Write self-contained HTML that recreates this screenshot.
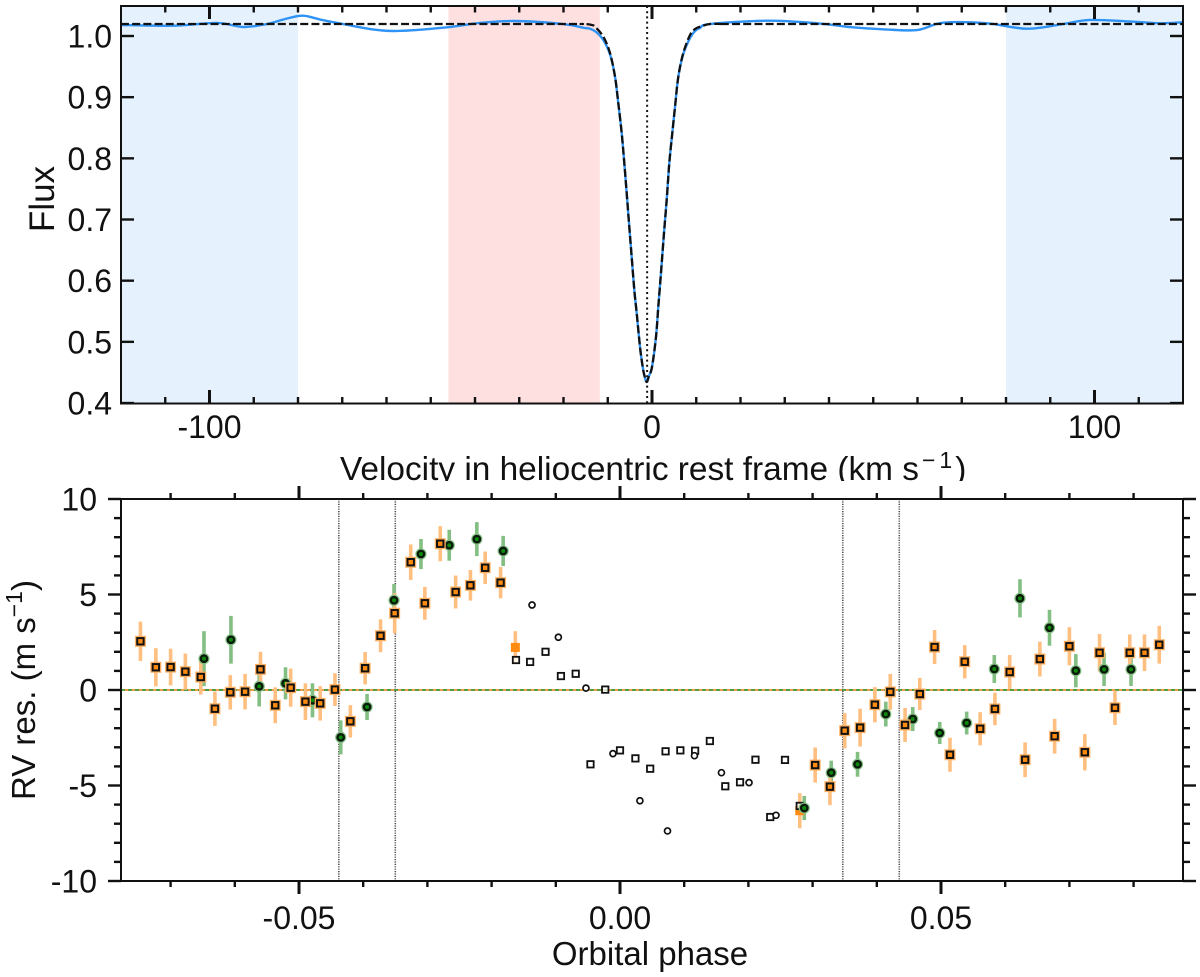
<!DOCTYPE html>
<html lang="en">
<head>
<meta charset="utf-8">
<title>Flux profile and RV residuals</title>
<style>
html,body{margin:0;padding:0;background:#fff;width:1200px;height:977px;overflow:hidden}
svg{display:block;font-family:"Liberation Sans",Arial,sans-serif;fill:#111}
text{font-size:32px}
</style>
</head>
<body>
<svg id="chart" xmlns="http://www.w3.org/2000/svg" width="1200" height="977" viewBox="0 0 1200 977">
  <defs>
    <clipPath id="clip-top"><rect x="121" y="6" width="1062" height="398"/></clipPath>
    <clipPath id="clip-bot"><rect x="121" y="499" width="1062" height="382"/></clipPath>
  </defs>
  <g id="top-panel"></g>
  <text id="vel-label" x="340" y="480" style="font-size:33.4px">Velocity in heliocentric rest frame (km s<tspan dx="3" dy="-12" style="font-size:23px;letter-spacing:4px">−1</tspan><tspan dy="12" dx="-1">)</tspan></text>
  <rect x="0" y="481" width="1200" height="496" fill="#fff"/>
  <g id="bot-panel"></g>
  <text transform="translate(54,199) rotate(-90)" text-anchor="middle" style="font-size:35px">Flux</text>
  <text transform="translate(35,690) rotate(-90)" text-anchor="middle" style="font-size:33px">RV res. (m s<tspan dy="-13" style="font-size:23px">−1</tspan><tspan dy="13">)</tspan></text>
  <text x="650" y="965" text-anchor="middle" style="font-size:33px">Orbital phase</text>
</svg>
<script>
// ---- Upper panel data ----
const modelVelocity = [-120,-60,-20,-16,-14.7,-13.6,-12.88,-11.0,-9.49,-8.36,-7.62,-6.85,-6.26,-5.72,-5.13,-4.59,-4.0,-3.46,-2.71,-2.1,-1.69,-1.2,-0.68,0,0.9,1.42,2.03,2.71,3.32,3.91,4.59,5.2,5.94,7.07,8.59,9.72,10.85,13.1,16,20,60,120];
const modelFlux = [1.0196,1.0196,1.0196,1.0196,1.0194,1.018,1.0152,0.9989,0.9722,0.9335,0.8905,0.8414,0.7924,0.7433,0.6878,0.6387,0.5848,0.5472,0.4916,0.4589,0.4442,0.4344,0.4442,0.4589,0.5079,0.557,0.6126,0.6779,0.7319,0.7924,0.8414,0.8839,0.933,0.9722,1.0016,1.0114,1.0152,1.0196,1.0196,1.0196,1.0196,1.0196];
const observedVelocity = [-119.8,-108.2,-98.3,-92.4,-87,-82.9,-78.9,-74.6,-69.8,-63.7,-57.6,-46.3,-38.9,-31,-20.1,-15.6,-14,-12.6,-11.0,-9.49,-8.36,-7.62,-6.85,-6.26,-5.72,-5.13,-4.59,-4.0,-3.46,-2.71,-2.1,-1.69,-1.2,-0.68,0,0.9,1.42,2.03,2.71,3.32,3.91,4.59,5.2,5.94,7.07,8.59,9.72,10.85,13.1,26,37.3,44.7,52.2,59.9,65.8,75.7,84.7,92.9,99,108.7,114.8,119.8];
const observedFlux = [1.018,1.0168,1.0213,1.0147,1.0196,1.0278,1.0332,1.0262,1.0196,1.0114,1.0082,1.0142,1.0213,1.0245,1.0196,1.0136,1.0119,1.0065,0.9935,0.97,0.9335,0.8905,0.8414,0.7924,0.7433,0.6878,0.6387,0.5848,0.5472,0.4916,0.4589,0.4442,0.4344,0.4442,0.4589,0.5079,0.557,0.6126,0.6779,0.7319,0.7924,0.8414,0.8839,0.933,0.9706,0.9967,1.0082,1.0131,1.0196,1.025,1.0208,1.0147,1.011,1.0098,1.0217,1.0208,1.0119,1.0196,1.0262,1.0234,1.0208,1.0224];
const blueBands = [[-120,-80],[80,120]];
const redBands = [[-46,-11.8]];
const restVelocity = -1.1;
const fluxTicks = [1.0,0.9,0.8,0.7,0.6,0.5,0.4];
const fluxTickLabels = ["1.0","0.9","0.8","0.7","0.6","0.5","0.4"];
const velocityMajor = [-100,0,100];
const velocityLabels = ["-100","0","100"];
const velocityMinor = [-110,-90,-80,-70,-60,-50,-40,-30,-20,-10,10,20,30,40,50,60,70,80,90,110];

// ---- Lower panel data ----
const orangePhase = [-0.0747,-0.0723,-0.0700,-0.0677,-0.0653,-0.0631,-0.0607,-0.0584,-0.0560,-0.0537,-0.0513,-0.0490,-0.0467,-0.0444,-0.0420,-0.0397,-0.0373,-0.0351,-0.0326,-0.0304,-0.0280,-0.0256,-0.0233,-0.0210,-0.0186,0.0304,0.0327,0.0350,0.0374,0.0397,0.0421,0.0444,0.0467,0.0490,0.0514,0.0537,0.0561,0.0584,0.0607,0.0631,0.0654,0.0677,0.0700,0.0724,0.0747,0.0771,0.0794,0.0817,0.0840];
const orangeRV = [2.55,1.19,1.2,0.96,0.68,-0.98,-0.12,-0.09,1.08,-0.8,0.12,-0.61,-0.7,0.02,-1.64,1.14,2.84,4.02,6.69,4.54,7.66,5.13,5.48,6.4,5.62,-3.93,-5.06,-2.13,-1.97,-0.77,-0.1,-1.83,-0.21,2.25,-3.39,1.48,-2.03,-0.99,0.94,-3.65,1.62,-2.42,2.29,-3.26,1.95,-0.93,1.95,1.95,2.37];
const orangeErr = [1.03,1,0.96,0.95,0.92,0.9,0.9,0.93,0.92,0.94,1,0.96,0.9,0.86,0.85,0.85,0.86,1.05,0.93,0.86,0.92,0.86,0.8,0.85,0.82,0.92,0.97,0.92,0.99,0.92,0.94,0.89,0.84,0.89,0.89,0.87,0.87,0.85,0.89,0.91,0.91,0.91,1,0.95,0.98,0.9,0.96,0.96,0.99];
const greenPhase = [-0.0648,-0.0606,-0.0562,-0.0521,-0.0479,-0.0435,-0.0394,-0.0352,-0.0310,-0.0266,-0.0223,-0.0182,0.0287,0.0329,0.0370,0.0414,0.0456,0.0498,0.0540,0.0583,0.0623,0.0669,0.0710,0.0754,0.0796];
const greenRV = [1.64,2.63,0.19,0.35,-0.54,-2.48,-0.89,4.7,7.12,7.58,7.9,7.28,-6.18,-4.33,-3.89,-1.26,-1.52,-2.25,-1.73,1.1,4.8,3.26,1.01,1.08,1.08];
const greenErr = [1.44,1.25,1.05,0.84,0.89,0.89,0.68,0.85,0.79,0.81,0.89,0.79,0.63,0.63,0.65,0.65,0.63,0.58,0.6,0.73,1,0.94,0.87,0.87,0.87];
const filledPhase = [-0.0163,0.0280];
const filledRV = [2.23,-6.32];
const filledErr = [0.85,0.92];
const openSquarePhase = [-0.0162,-0.0140,-0.0116,-0.0092,-0.0069,-0.0046,-0.0023,0,0.0024,0.0047,0.0071,0.0094,0.0117,0.0140,0.0164,0.0187,0.0211,0.0234,0.0257,0.0280];
const openSquareRV = [1.57,1.47,2.0,0.73,0.85,-3.89,0.02,-3.16,-3.58,-4.12,-3.21,-3.16,-3.18,-2.67,-5.04,-4.83,-3.65,-6.65,-3.66,-6.07];
const openCirclePhase = [-0.0137,-0.0096,-0.0053,-0.0011,0.0031,0.0074,0.0116,0.0158,0.0201,0.0243];
const openCircleRV = [4.45,2.76,0.1,-3.33,-5.8,-7.38,-3.44,-4.33,-4.85,-6.56];
const contactPhases = [-0.0438,-0.0350,0.0347,0.0435];
const rvMajor = [10,5,0,-5,-10];
const rvLabels = ["10","5","0","-5","-10"];
const rvMinor = [9,8,7,6,4,3,2,1,-1,-2,-3,-4,-6,-7,-8,-9];
const phaseMajor = [-0.05,0,0.05];
const phaseLabels = ["-0.05","0.00","0.05"];
const phaseMinor = [-0.07,-0.06,-0.04,-0.03,-0.02,-0.01,0.01,0.02,0.03,0.04,0.06,0.07,0.08];

// ---- Axis functions ----
const L = 121, R = 1183;
const vx = v => 652 + 4.425 * v;
const fy = f => 36 + (1 - f) * 611.7;
const px = p => 620 + 6420 * p;
const ry = r => 690 - 19.1 * r;
const NS = "http://www.w3.org/2000/svg";

function mk(parent, tag, props) {
  const el = document.createElementNS(NS, tag);
  for (const k in props) el.setAttribute(k, props[k]);
  parent.appendChild(el);
  return el;
}
function smooth(xs, ys) {
  let d = "M" + xs[0].toFixed(2) + " " + ys[0].toFixed(2);
  for (let i = 0; i < xs.length - 1; i++) {
    const a = Math.max(i - 1, 0), b = Math.min(i + 2, xs.length - 1);
    const c1x = xs[i] + (xs[i + 1] - xs[a]) / 6, c1y = ys[i] + (ys[i + 1] - ys[a]) / 6;
    const c2x = xs[i + 1] - (xs[b] - xs[i]) / 6, c2y = ys[i + 1] - (ys[b] - ys[i]) / 6;
    d += "C" + c1x.toFixed(2) + " " + c1y.toFixed(2) + " " + c2x.toFixed(2) + " " + c2y.toFixed(2) + " " + xs[i + 1].toFixed(2) + " " + ys[i + 1].toFixed(2);
  }
  return d;
}
function line(parent, x1, y1, x2, y2, w, name) {
  const el = mk(parent, "line", {x1: x1, y1: y1, x2: x2, y2: y2, stroke: "#111", "stroke-width": w});
  
  
  return el;
}
function label(parent, x, y, txt, anchor, name) {
  const el = mk(parent, "text", {x: x, y: y, "text-anchor": anchor});
  el.textContent = txt;
  
  
  return el;
}

// ---- Upper panel ----
const T = document.getElementById("top-panel");
blueBands.forEach(b => {
  const el = mk(T, "rect", {x: vx(b[0]), y: 6, width: vx(b[1]) - vx(b[0]), height: 398, fill: "#e5f2fe"});
  
  
});
redBands.forEach(b => {
  const el = mk(T, "rect", {x: vx(b[0]), y: 6, width: vx(b[1]) - vx(b[0]), height: 398, fill: "#fee0e1"});
  
  
});
const restLine = mk(T, "line", {x1: vx(restVelocity), y1: 6, x2: vx(restVelocity), y2: 404, stroke: "#111", "stroke-width": 2, "stroke-dasharray": "2 3.2"});


const obs = mk(T, "path", {d: smooth(observedVelocity.map(vx), observedFlux.map(fy)), fill: "none", stroke: "#2f93f5", "stroke-width": 2.4, "clip-path": "url(#clip-top)"});


const mod = mk(T, "path", {d: smooth(modelVelocity.map(vx), modelFlux.map(fy)), fill: "none", stroke: "#111", "stroke-width": 2.3, "stroke-dasharray": "8 3.2", "clip-path": "url(#clip-top)"});



const frameTop = mk(T, "rect", {x: L, y: 6, width: R - L, height: 397.5, fill: "none", stroke: "#111", "stroke-width": 2});


velocityMajor.forEach((v, i) => {
  line(T, vx(v), 403, vx(v), 390, 3, "velocity-major-tick");
  line(T, vx(v), 6, vx(v), 19, 3, "velocity-major-tick-top");
  label(T, vx(v), 438, velocityLabels[i], "middle", "velocity-tick-label");
});
velocityMinor.forEach(v => {
  line(T, vx(v), 403, vx(v), 397, 2.4, "velocity-minor-tick");
  line(T, vx(v), 6, vx(v), 12.5, 2.4, "velocity-minor-tick-top");
});
fluxTicks.forEach((f, i) => {
  line(T, L, fy(f), L + 13, fy(f), 2.4, "flux-tick");
  line(T, R, fy(f), R - 13, fy(f), 2.4, "flux-tick-right");
  label(T, 112, fy(f) + 11.5, fluxTickLabels[i], "end", "flux-tick-label");
});

// ---- Lower panel ----
const B = document.getElementById("bot-panel");
const g = mk(B, "g", {"clip-path": "url(#clip-bot)"});



contactPhases.forEach(p => {
  const el = mk(g, "line", {x1: px(p), y1: 499, x2: px(p), y2: 881, stroke: "#555", "stroke-width": 1.6, "stroke-dasharray": "1.2 1.2"});
  
  
});
const zeroO = mk(g, "line", {x1: L, y1: ry(0), x2: R, y2: ry(0), stroke: "#e8912a", "stroke-width": 1.8});


const zeroG = mk(g, "line", {x1: L, y1: ry(0), x2: R, y2: ry(0), stroke: "#3f9a3f", "stroke-width": 1.8, "stroke-dasharray": "4 3"});



function errBar(p, r, e, color, name) {
  const el = mk(g, "line", {x1: px(p), y1: ry(r - e), x2: px(p), y2: ry(r + e), stroke: color, "stroke-width": 3.6});
  
  
}
greenPhase.forEach((p, i) => errBar(p, greenRV[i], greenErr[i], "#83bf83", "green-error-bar"));
orangePhase.forEach((p, i) => errBar(p, orangeRV[i], orangeErr[i], "#ffbf80", "orange-error-bar"));
filledPhase.forEach((p, i) => errBar(p, filledRV[i], filledErr[i], "#ffbf80", "filled-error-bar"));

filledPhase.forEach((p, i) => {
  const el = mk(g, "rect", {x: px(p) - 4.5, y: ry(filledRV[i]) - 4.5, width: 9, height: 9, fill: "#ff8c10"});
  
  
});
openSquarePhase.forEach((p, i) => {
  const el = mk(g, "rect", {x: px(p) - 3.2, y: ry(openSquareRV[i]) - 3.2, width: 6.4, height: 6.4, fill: "#fff", "fill-opacity": 0.75, stroke: "#111", "stroke-width": 1.8});
  
  
});
openCirclePhase.forEach((p, i) => {
  const el = mk(g, "circle", {cx: px(p), cy: ry(openCircleRV[i]), r: 3, fill: "#fff", stroke: "#111", "stroke-width": 1.7});
  
  
});
greenPhase.forEach((p, i) => {
  const x = px(p), y = ry(greenRV[i]);
  const halo = mk(g, "circle", {cx: x, cy: y, r: 5.6, fill: "#83bf83"});
  
  
  const el = mk(g, "circle", {cx: x, cy: y, r: 3.2, fill: "#0a8a0a", stroke: "#0a1a0a", "stroke-width": 2.4});
  
  
});
orangePhase.forEach((p, i) => {
  const x = px(p), y = ry(orangeRV[i]);
  const halo = mk(g, "rect", {x: x - 5.5, y: y - 5.5, width: 11, height: 11, fill: "#ffb060"});
  
  
  const el = mk(g, "rect", {x: x - 3.2, y: y - 3.2, width: 6.4, height: 6.4, fill: "#ff8c10", stroke: "#111", "stroke-width": 2});
  
  
});

const frameBot = mk(B, "rect", {x: L, y: 499, width: R - L, height: 382, fill: "none", stroke: "#111", "stroke-width": 2});


phaseMajor.forEach((p, i) => {
  line(B, px(p), 881, px(p), 894, 3, "phase-major-tick");
  line(B, px(p), 499, px(p), 486, 3, "phase-major-tick-top");
  label(B, px(p), 929, phaseLabels[i], "middle", "phase-tick-label");
});
phaseMinor.forEach(p => {
  line(B, px(p), 881, px(p), 887, 2.4, "phase-minor-tick");
  line(B, px(p), 499, px(p), 493, 2.4, "phase-minor-tick-top");
});
rvMajor.forEach((r, i) => {
  line(B, L, ry(r), L - 13, ry(r), 2.4, "rv-major-tick");
  line(B, R, ry(r), R + 13, ry(r), 2.4, "rv-major-tick-right");
  label(B, 97, ry(r) + 11.5, rvLabels[i], "end", "rv-tick-label");
});
rvMinor.forEach(r => {
  line(B, L, ry(r), L - 7, ry(r), 2.4, "rv-minor-tick");
  line(B, R, ry(r), R + 7, ry(r), 2.4, "rv-minor-tick-right");
});
</script>
</body>
</html>
